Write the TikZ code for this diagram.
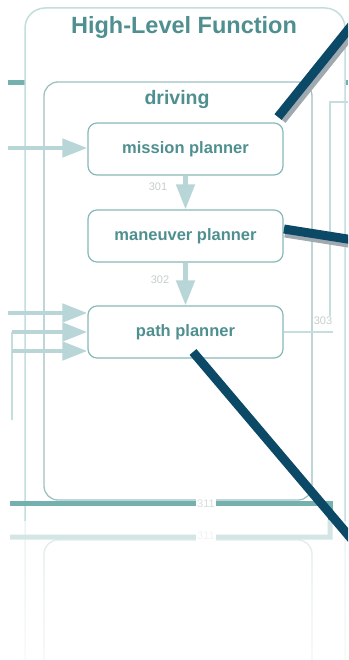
\documentclass[tikz,border=0pt]{standalone}
\usepackage{fontspec}
\setmainfont{Liberation Sans}
\usetikzlibrary{arrows.meta}

\definecolor{tealtext}{HTML}{4F8F8F}
\definecolor{boxline}{HTML}{88B9B9}
\definecolor{innerline}{HTML}{9FC1C1}
\definecolor{flow}{HTML}{B8D6D8}
\definecolor{thinline}{HTML}{C4DDDE}
\definecolor{bus}{HTML}{74B0AD}
\definecolor{numgray}{HTML}{C6CECE}
\definecolor{callout}{HTML}{0B4967}
\definecolor{callshadow}{HTML}{A0A8B0}

\tikzset{
  planner/.style={draw=boxline, line width=1.2pt, rounded corners=9pt, fill=white,
    minimum width=195pt, minimum height=52pt, inner sep=0pt, text=tealtext,
    font=\fontsize{16.5}{18}\selectfont\bfseries},
  boxtitle/.style={inner sep=0pt, text=tealtext},
  numlabel/.style={inner sep=1pt, text=numgray, font=\fontsize{11}{12}\selectfont},
  flowarrow/.style={draw=flow, line width=4.5pt, -{Triangle[length=25pt,width=18pt]}},
  wire/.style={draw=thinline, line width=2pt},
  busline/.style={draw=bus, line width=5pt},
  calloutline/.style={draw=callout, line width=9pt},
  calloutshadow/.style={draw=callshadow, line width=9pt},
}

% frames and the lower bus: these also show up in the mirrored reflection
\newcommand\framesandbus{%
  \draw[wire, line width=1.5pt, fill=white, rounded corners=20pt]
    (25,720) -- (25,8) -- (345,8) -- (345,720);
  \draw[innerline, line width=1.3pt, rounded corners=14pt] (44,82) rectangle (312,500);
  \draw[busline] (10,503) -- (330,503) -- (330,520);
  \node[numlabel, fill=white, text=numgray!70] (l311) at (206,504) {311};
}

\begin{document}
\begin{tikzpicture}[x=1pt,y=-1pt]
  \path[use as bounding box] (0,0) rectangle (348,660);
  \clip (0,0) rectangle (348,660);
  \fill[white] (0,0) rectangle (348,660);

  % upper bus, passing behind the outer frame
  \draw[busline] (8,83) -- (348,83);

  \begin{scope}
    \clip (0,0) rectangle (348,520);
    \framesandbus
  \end{scope}

  \node[boxtitle, font=\fontsize{23.5}{26}\selectfont\bfseries] (hlf) at (184,27) {High-Level Function};
  \node[boxtitle, font=\fontsize{19.5}{22}\selectfont\bfseries] (driving) at (177,100) {driving};

  % signal 303 on the right
  \draw[wire] (330,325) -- (330,102) -- (348,102);

  % planners
  \node[planner] (mission)  at (185.5,149) {mission planner};
  \node[planner] (maneuver) at (185.5,236) {maneuver planner};
  \node[planner] (path)     at (185.5,332) {path planner};

  % internal flow
  \draw[flowarrow] (mission.south) -- (maneuver.north);
  \draw[flowarrow] (maneuver.south) -- (path.north);
  \node[numlabel] (l301) at (158,187) {301};
  \node[numlabel] (l302) at (160,280) {302};

  % inputs from the left
  \coordinate (inmission) at (8,148);
  \draw[flowarrow] (inmission) -- (mission.west |- inmission);
  \coordinate (ina) at (8,313);
  \coordinate (inb) at (12,332);
  \coordinate (inc) at (12,351);
  \coordinate (infeed) at (12,420);
  \draw[wire] (infeed) -- (inb);
  \draw[flowarrow] (ina) -- (path.west |- ina);
  \draw[flowarrow] (inb) -- (path.west |- inb);
  \draw[flowarrow] (inc) -- (path.west |- inc);

  % output 303
  \coordinate (out303) at (333,332);
  \draw[wire] (path.east) -- (out303);
  \node[numlabel, fill=white] (l303) at (323,321) {303};

  % reflection below the diagram
  \begin{scope}[transparency group, opacity=0.32]
    \clip (0,520) rectangle (348,660);
    \begin{scope}[yshift=-1040pt, yscale=-1]
      \framesandbus
    \end{scope}
  \end{scope}
  \foreach \i in {0,...,13} {
    \fill[white, opacity=0.045*\i] (0,520+10*\i) rectangle (348,530+10*\i);
  }

  % callout pointers
  \coordinate (p1a) at (278,117);
  \coordinate (p1b) at (360,15);
  \coordinate (p2a) at (284,229);
  \coordinate (p2b) at (360,241);
  \coordinate (p3a) at (193,352);
  \coordinate (p3b) at (360,549);
  \draw[calloutshadow] ([shift={(4,3)}]p1a) -- ([shift={(4,3)}]p1b);
  \draw[calloutline] (p1a) -- (p1b);
  \draw[calloutshadow] ([shift={(1,4)}]p2a) -- ([shift={(1,4)}]p2b);
  \draw[calloutline] (p2a) -- (p2b);
  \draw[calloutline] (p3a) -- (p3b);
\end{tikzpicture}
\end{document}
